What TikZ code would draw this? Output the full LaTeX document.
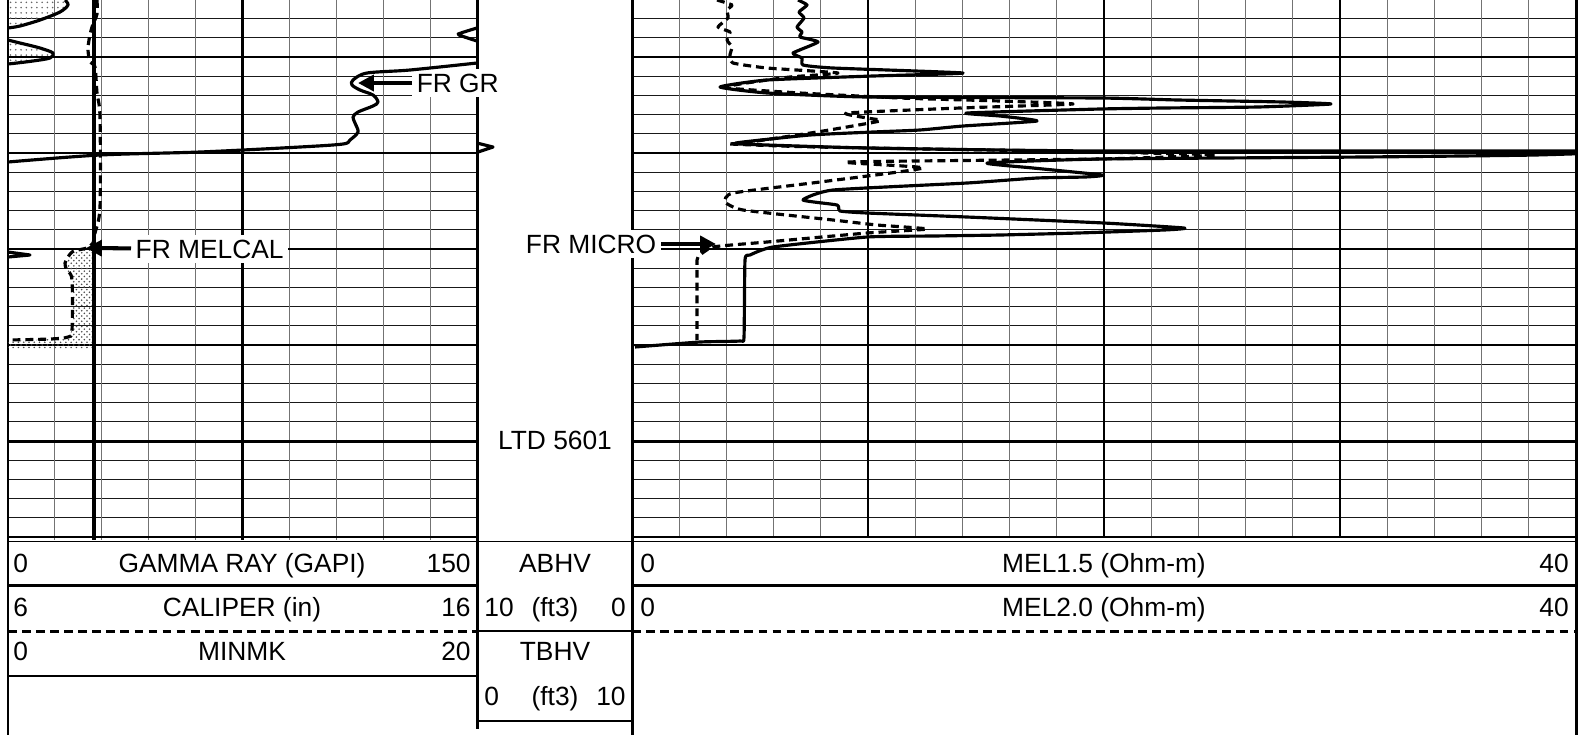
\documentclass[tikz,border=0pt]{standalone}
\usepackage{fontspec}
\setmainfont{Liberation Sans}
\usetikzlibrary{arrows.meta,patterns}

\begin{document}
\begin{tikzpicture}[x=0.02cm,y=-0.02cm,font=\fontsize{15}{17}\selectfont,
    fine/.style={line width=0.55pt,black!90},
    vfine/.style={line width=0.65pt,black!55},
    major/.style={line width=1.2pt},
    edge/.style={line width=1.7pt},
    trace/.style={line width=1.8pt,line join=round},
    dtrace/.style={trace,dash pattern=on 4.5pt off 2.8pt},
    tag/.style={fill=white,inner sep=2.5pt},
    hd/.style={inner sep=0pt},
    pointer/.style={line width=2.3pt,-{Triangle[length=9pt,width=9pt]}}]
    \useasboundingbox (0,0) rectangle (1581,735);
    % depth grid
    \foreach \k in {-2,...,24}
      \draw[fine] (8,{57+19.2*\k}) -- (477,{57+19.2*\k}) (632,{57+19.2*\k}) -- (1576,{57+19.2*\k});
    \foreach \i in {1,...,9}
      \draw[vfine] ({8+46.9*\i},0) -- ({8+46.9*\i},540);
    \foreach \i in {1,...,19}
      \draw[vfine] ({632+47.2*\i},0) -- ({632+47.2*\i},537);
    \foreach \k in {0,5,...,25}
      \draw[major] (8,{57+19.2*\k}) -- (477,{57+19.2*\k}) (632,{57+19.2*\k}) -- (1576,{57+19.2*\k});
    \draw[edge] (8,441) -- (477,441) (632,441) -- (1576,441);
    \draw[major] (242.5,0) -- (242.5,540);
    \foreach \i in {5,10,15}
      \draw[major] ({632+47.2*\i},0) -- ({632+47.2*\i},537);
    % track borders
    \draw[edge] (8,0) -- (8,735) (477,0) -- (477,729) (632,0) -- (632,735) (1576,0) -- (1576,735);
    % header
    \draw (8,541) -- (1576,541);
    \draw[edge] (8,585) -- (477,585) (632,585) -- (1576,585);
    \draw[edge,dash pattern=on 5pt off 3pt] (8,631) -- (477,631) (632,631) -- (1576,631);
    \draw[line width=0.8pt] (8,676) -- (477,676) (477,631) -- (632,631) (477,721) -- (632,721);
    \node[hd,anchor=base west] (grlo) at (13,572) {0};
    \node[hd,anchor=base] (grname) at (242,572) {GAMMA RAY (GAPI)};
    \node[hd,anchor=base east] (grhi) at (471,572) {150};
    \node[hd,anchor=base west] (callo) at (13,616) {6};
    \node[hd,anchor=base] (calname) at (242,616) {CALIPER (in)};
    \node[hd,anchor=base east] (calhi) at (471,616) {16};
    \node[hd,anchor=base west] (mklo) at (13,660) {0};
    \node[hd,anchor=base] (mkname) at (242,660) {MINMK};
    \node[hd,anchor=base east] (mkhi) at (471,660) {20};
    \node[hd,anchor=base] (abname) at (555,572) {ABHV};
    \node[hd,anchor=base west] (ablo) at (484,616) {10};
    \node[hd,anchor=base] (abunit) at (555,616) {(ft3)};
    \node[hd,anchor=base east] (abhi) at (626,616) {0};
    \node[hd,anchor=base] (tbname) at (555,660) {TBHV};
    \node[hd,anchor=base west] (tblo) at (484,705) {0};
    \node[hd,anchor=base] (tbunit) at (555,705) {(ft3)};
    \node[hd,anchor=base east] (tbhi) at (626,705) {10};
    \node[hd,anchor=base west] (melalo) at (640,572) {0};
    \node[hd,anchor=base] (melaname) at (1104,572) {MEL1.5 (Ohm-m)};
    \node[hd,anchor=base east] (melahi) at (1569,572) {40};
    \node[hd,anchor=base west] (melblo) at (640,616) {0};
    \node[hd,anchor=base] (melbname) at (1104,616) {MEL2.0 (Ohm-m)};
    \node[hd,anchor=base east] (melbhi) at (1569,616) {40};
    \node (ltd) at (555,440) {LTD 5601};
    % flags
    \node[tag,anchor=west] (grtag) at (412,83) {FR GR};
    \node[tag,anchor=west] (caltag) at (131,249) {FR MELCAL};
    \node[tag,anchor=east] (mictag) at (661,244) {FR MICRO};
    \coordinate (grtip) at (358,83);
    \coordinate (caltip) at (86,248);
    \coordinate (mictip) at (716,244);
    % gamma ray
    \path[pattern=dots,pattern color=black!60] (8,0) -- (65,0) -- (68,5) -- (60,12) -- (40,20) -- (20,26) -- (8,28) -- cycle;
    \path[pattern=dots,pattern color=black!60] (8,40) -- (20,43) -- (40,48) -- (53,53) -- (50,58) -- (33,61) -- (17,63) -- (8,64) -- cycle;
    \draw[trace] plot[smooth] coordinates {(65,0) (68,5) (60,12) (40,20) (20,26) (8,28)};
    \draw[trace] plot[smooth] coordinates {(8,40) (20,43) (40,48) (53,53) (50,58) (33,61) (17,63) (8,64)};
    \draw[trace] plot[smooth] coordinates {(477,28) (461,33) (459,35) (477,41)};
    \draw[trace] plot[smooth,tension=0.5] coordinates {(477,63) (410,70) (367,73) (353,80) (352,85) (360,90) (373,95) (378,102) (373,106) (358,112) (353,117) (355,123) (358,132) (350,140) (343,144) (300,147) (200,152) (100,155) (8,162)};
    \draw[trace] (477,143) -- (493,147) -- (478,152);
    \draw[trace] (8,252) -- (30,255) -- (8,257);
    % caliper and bit size
    \fill[pattern=crosshatch dots,pattern color=black!70] (94,247) -- (87,248) -- (80,250) -- (72,254) -- (65,262) -- (67,270) -- (72,278) -- (72,330) -- (68,338) -- (33,340) -- (8,341) -- (8,348) -- (94,348) -- cycle;
    \draw[trace] (94,0) -- (94,540);
    \draw[dtrace] plot[smooth] coordinates {(97,0) (97,14) (92,27) (89,40) (88,50) (90,62) (95,67) (97,93) (100,117) (100,207) (95,233) (93,243) (87,248) (83,249) (72,252) (65,263) (67,270) (72,280) (72,330) (68,337) (50,339) (8,340)};
    % micro resistivity
    \scope
    \clip (632,0) rectangle (1576,537);
    \draw[trace] plot[smooth,tension=0.3] coordinates {(798,0) (807,5) (799,12) (804,18) (797,27) (802,32) (800,37) (818,42) (793,53) (802,58) (803,65) (833,68) (963,73) (873,76) (767,80) (720,87) (767,93) (867,97) (1100,98) (1178,100) (1283,102) (1331,104) (1258,107) (1162,108) (1100,109) (967,113) (1000,116) (1037,121) (963,126) (920,130) (873,132) (810,135) (743,142) (740,144) (867,148) (1100,151) (1620,151) (1535,155) (1364,157) (1100,159) (987,163) (1033,168) (1102,175) (1085,177) (1037,178) (967,183) (833,190) (803,200) (837,205) (840,211) (867,213) (967,217) (1104,223) (1184,228) (1164,230) (1078,233) (1000,235) (933,236) (867,237) (773,247) (750,255) (745,260) (744,337) (740,341) (700,342) (635,347)};
    \draw[dtrace] plot[smooth,tension=0.3] coordinates {(717,0) (732,5) (727,10) (728,18) (718,27) (730,32) (727,40) (732,47) (730,55) (733,63) (767,68) (838,73) (790,77) (740,84) (727,88) (800,93) (900,98) (1000,101) (1073,104) (960,108) (847,113) (867,118) (880,121) (817,132) (743,143) (730,144) (817,147) (1100,152) (1216,155) (1100,159) (847,162) (923,168) (820,182) (733,193) (725,202) (743,210) (833,220) (877,225) (927,229) (867,233) (767,242) (713,247) (698,257) (697,267) (697,340)};
    \endscope
    % flag arrows
    \draw[pointer] (grtag) -- (grtip);
    \draw[pointer] (caltag) -- (caltip);
    \draw[pointer] (mictag) -- (mictip);
  \end{tikzpicture}
\end{document}
